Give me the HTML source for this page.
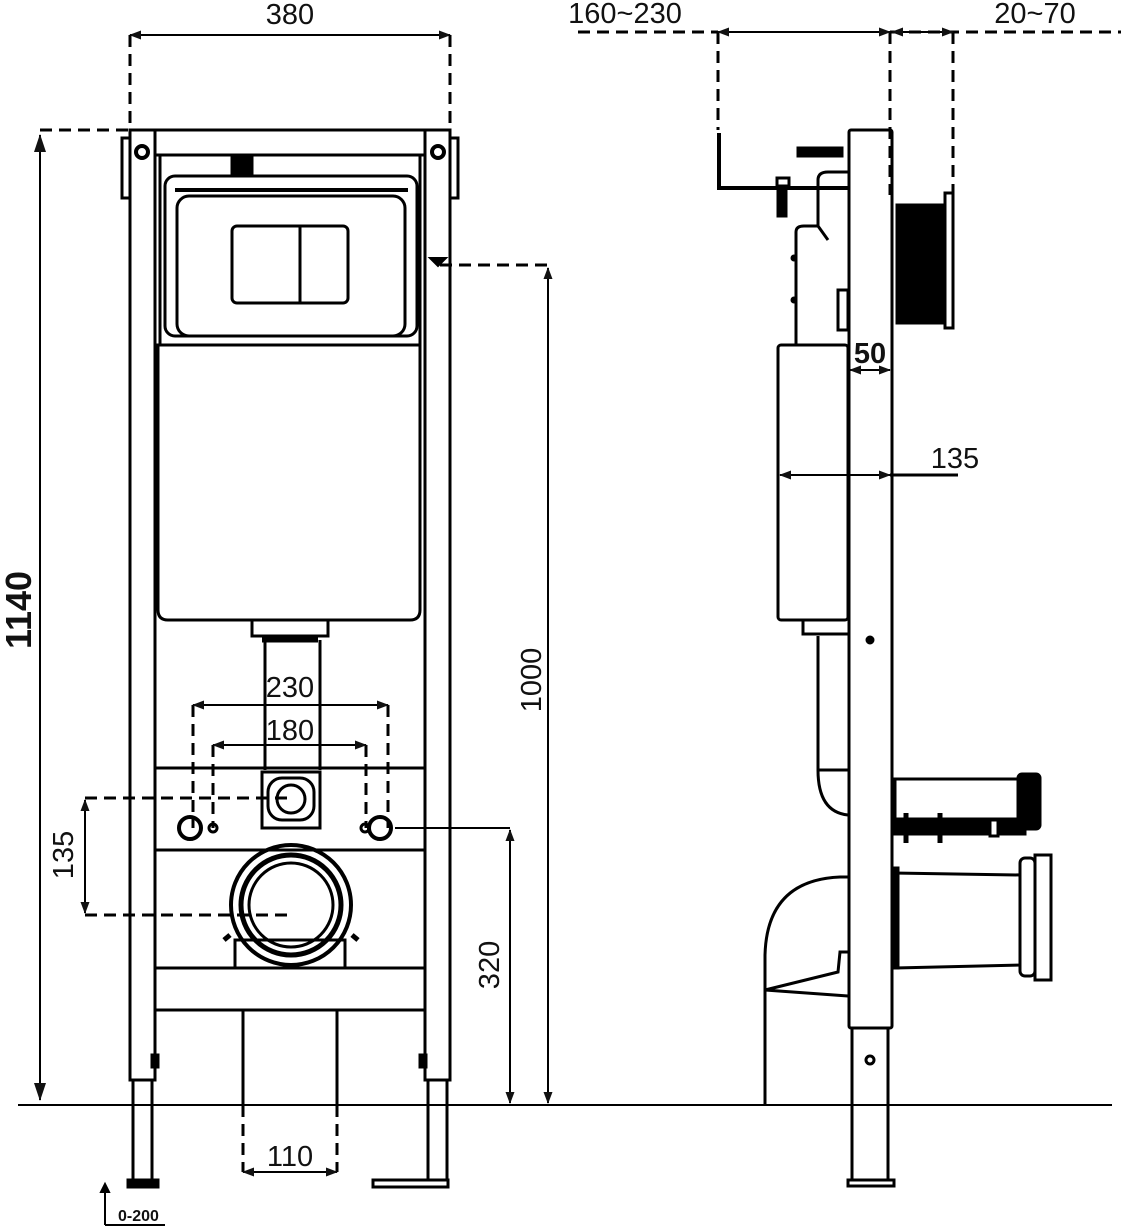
<!DOCTYPE html>
<html><head><meta charset="utf-8"><style>
html,body{margin:0;padding:0;background:#fff}
svg{display:block}
text{font-family:"Liberation Sans",Arial,sans-serif;fill:#111}
</style></head><body>
<svg width="1121" height="1229" viewBox="0 0 1121 1229" xmlns="http://www.w3.org/2000/svg">
<defs>
<marker id="a" markerWidth="12" markerHeight="9" refX="11" refY="4.5" orient="auto-start-reverse" markerUnits="userSpaceOnUse"><path d="M0,0 L12,4.5 L0,9 Z" fill="#111"/></marker>
<marker id="b" markerWidth="18" markerHeight="12" refX="17" refY="6" orient="auto-start-reverse" markerUnits="userSpaceOnUse"><path d="M0,0 L18,6 L0,12 Z" fill="#111"/></marker>
</defs>
<g fill="none" stroke="#000" stroke-width="3">
<rect x="130" y="130" width="25" height="950"/>
<rect x="425" y="130" width="25" height="950"/>
<rect x="133" y="1080" width="19" height="100"/>
<rect x="428" y="1080" width="19" height="100"/>
<rect x="128" y="1180" width="30" height="7" fill="#000"/>
<rect x="373" y="1180" width="75" height="7"/>
<rect x="155" y="130" width="270" height="25"/>
<rect x="122" y="138" width="8" height="60"/>
<rect x="450" y="138" width="8" height="60"/>
<circle cx="142" cy="152" r="6" stroke-width="4"/>
<circle cx="438" cy="152" r="6" stroke-width="4"/>
<line x1="160" y1="155" x2="160" y2="345"/>
<line x1="420" y1="155" x2="420" y2="345"/>
<rect x="232" y="158" width="20" height="15" fill="#000"/>
<rect x="165" y="176" width="252" height="160" rx="10"/>
<line x1="175" y1="190" x2="408" y2="190" stroke-width="4"/>
<rect x="177" y="196" width="228" height="140" rx="12"/>
<rect x="232" y="226" width="116" height="77" rx="5"/>
<line x1="300" y1="226" x2="300" y2="303"/>
<path d="M158,345 H420 V610 Q420,620 410,620 H168 Q158,620 158,610 Z"/>
<path d="M252,620 V636 H328 V620"/>
<line x1="262" y1="640" x2="318" y2="640" stroke-width="5"/>
<line x1="265" y1="640" x2="265" y2="770"/>
<line x1="320" y1="640" x2="320" y2="770"/>
<line x1="155" y1="620" x2="155" y2="1080"/>
<rect x="155" y="768" width="270" height="82"/>
<path d="M262,828 V772 H320 V828 Z"/>
<rect x="268" y="778" width="46" height="42" rx="14"/>
<circle cx="291" cy="799" r="14"/>
<circle cx="190" cy="828" r="11" stroke-width="4"/>
<circle cx="213" cy="828" r="4"/>
<circle cx="380" cy="828" r="11" stroke-width="4"/>
<circle cx="365" cy="828" r="4"/>
<rect x="235" y="940" width="110" height="28"/>
<circle cx="291" cy="905" r="60" stroke-width="4"/>
<circle cx="291" cy="905" r="50" stroke-width="5"/>
<circle cx="291" cy="905" r="42"/>
<line x1="230" y1="935" x2="224" y2="940" stroke-width="5"/>
<line x1="352" y1="935" x2="358" y2="940" stroke-width="5"/>
<rect x="155" y="968" width="270" height="42"/>
<line x1="243" y1="1010" x2="243" y2="1105"/>
<line x1="337" y1="1010" x2="337" y2="1105"/>
<rect x="152" y="1055" width="6" height="12" fill="#000"/>
<rect x="420" y="1055" width="6" height="12" fill="#000"/>
</g>
<g stroke="#000" stroke-width="2" fill="none">
<line x1="18" y1="1105" x2="1112" y2="1105"/>
<line x1="130" y1="35" x2="450" y2="35" marker-start="url(#a)" marker-end="url(#a)"/>
<g stroke-width="3" stroke-dasharray="12,7">
<path d="M130,35 V130 M450,35 V130 M40,130 H130"/>
<path d="M440,265 H548"/>
<path d="M85,798 H290 M85,915 H290"/>
<path d="M193,705 V828 M388,705 V828"/>
<path d="M213,745 V828 M366,745 V828"/>
<path d="M243,1105 V1172 M337,1105 V1172"/>
<path d="M578,32 H718 M890,32 H1125 M718,32 V130 M890,32 V195 M953,32 V195"/>
</g>
<line x1="40" y1="135" x2="40" y2="1100" marker-start="url(#b)" marker-end="url(#b)"/>
<line x1="548" y1="268" x2="548" y2="1103" marker-start="url(#a)" marker-end="url(#a)"/>
<path d="M430,258 L438,266 L446,258 Z" fill="#000"/>
<line x1="395" y1="828" x2="510" y2="828"/>
<line x1="510" y1="830" x2="510" y2="1103" marker-start="url(#a)" marker-end="url(#a)"/>
<line x1="85" y1="800" x2="85" y2="913" marker-start="url(#a)" marker-end="url(#a)"/>
<line x1="193" y1="705" x2="388" y2="705" marker-start="url(#a)" marker-end="url(#a)"/>
<line x1="213" y1="745" x2="366" y2="745" marker-start="url(#a)" marker-end="url(#a)"/>
<line x1="243" y1="1172" x2="337" y2="1172" marker-start="url(#a)" marker-end="url(#a)"/>
<line x1="105" y1="1186" x2="105" y2="1225"/>
<line x1="105" y1="1225" x2="165" y2="1225"/>
<path d="M101,1192 L105,1184 L109,1192Z" fill="#000"/>
<line x1="718" y1="32" x2="890" y2="32" marker-start="url(#a)" marker-end="url(#a)"/>
<line x1="892" y1="32" x2="953" y2="32" marker-start="url(#a)" marker-end="url(#a)"/>
<line x1="850" y1="370" x2="890" y2="370" marker-start="url(#a)" marker-end="url(#a)"/>
<line x1="780" y1="475" x2="890" y2="475" marker-start="url(#a)" marker-end="url(#a)"/>
<line x1="890" y1="475" x2="958" y2="475" stroke-width="3"/>
</g>
<g fill="none" stroke="#000" stroke-width="3">
<rect x="849" y="130" width="43" height="898" rx="2"/>
<rect x="852" y="1028" width="36" height="152"/>
<rect x="848" y="1180" width="46" height="6"/>
<rect x="778" y="345" width="70" height="275" rx="3"/>
<path d="M803,620 V634 H848"/>
<line x1="818" y1="636" x2="818" y2="770"/>
<path d="M818,770 Q818,812 848,815"/>
<line x1="818" y1="770" x2="848" y2="770"/>
<path d="M719,133 V188 H848" stroke-width="4"/>
<rect x="798" y="148" width="44" height="8" fill="#000"/>
<rect x="777" y="178" width="12" height="8"/>
<rect x="778" y="186" width="8" height="30" fill="#000"/>
<path d="M796,345 V232 Q796,226 804,226 H818 L828,240"/>
<path d="M818,226 V180 Q818,172 828,172 H848"/>
<rect x="838" y="290" width="10" height="40"/>
<circle cx="794" cy="258" r="2" fill="#000"/>
<circle cx="794" cy="300" r="2" fill="#000"/>
<rect x="897" y="205" width="48" height="118" fill="#000"/>
<rect x="945" y="193" width="8" height="135"/>
<rect x="895" y="779" width="125" height="40"/>
<rect x="1018" y="774" width="22" height="55" rx="4" fill="#000"/>
<rect x="895" y="822" width="130" height="12" fill="#000"/>
<line x1="906" y1="813" x2="906" y2="843" stroke-width="5"/>
<line x1="940" y1="813" x2="940" y2="843" stroke-width="5"/>
<rect x="990" y="820" width="8" height="16" fill="#fff"/>
<path d="M893,873 L1020,875 V965 L895,968"/>
<rect x="1020" y="858" width="15" height="118" rx="5"/>
<rect x="1035" y="855" width="16" height="125"/>
<path d="M849,877 H840 Q767,880 765,955 V1105"/>
<path d="M848,952 H840 L838,972 L765,990 L848,996"/>
<rect x="893" y="868" width="5" height="100" fill="#000"/>
<circle cx="870" cy="1060" r="4"/>
<circle cx="870" cy="640" r="3" fill="#000"/>
</g>
<g font-size="29">
<text x="290" y="24" text-anchor="middle">380</text>
<text x="625" y="23" text-anchor="middle">160~230</text>
<text x="1035" y="23" text-anchor="middle">20~70</text>
<text x="870" y="363" text-anchor="middle" font-weight="bold">50</text>
<text x="955" y="468" text-anchor="middle">135</text>
<text x="290" y="697" text-anchor="middle">230</text>
<text x="290" y="740" text-anchor="middle">180</text>
<text x="290" y="1166" text-anchor="middle">110</text>
<text transform="translate(541,680) rotate(-90)" text-anchor="middle">1000</text>
<text transform="translate(499,965) rotate(-90)" text-anchor="middle">320</text>
<text transform="translate(73,855) rotate(-90)" text-anchor="middle">135</text>
<text transform="translate(31,610) rotate(-90)" text-anchor="middle" font-size="36" font-weight="bold">1140</text>
<text x="118" y="1221" font-size="16" font-weight="bold">0-200</text>
</g>
</svg>
</body></html>
